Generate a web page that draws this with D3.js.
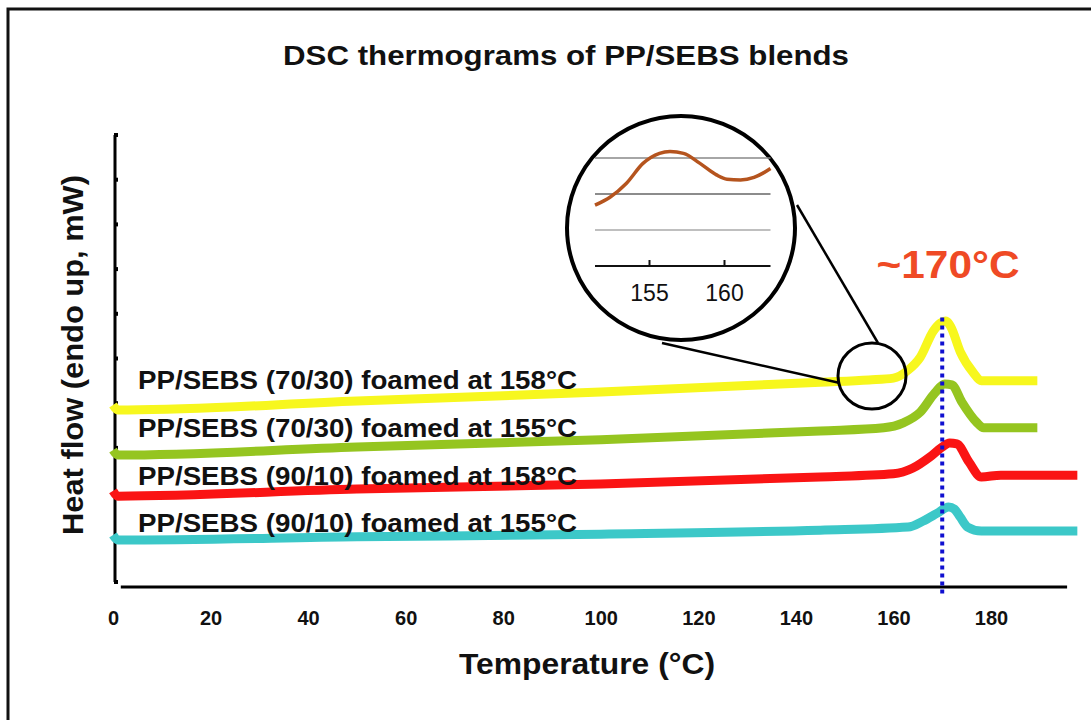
<!DOCTYPE html>
<html><head><meta charset="utf-8">
<script src="https://cdn.jsdelivr.net/npm/d3@7"></script>
<style>
html,body{margin:0;padding:0;background:#fff;}
svg{display:block;}
text{font-family:"Liberation Sans",Arial,sans-serif;}
</style></head>
<body>
<svg id="chart" width="1091" height="720"></svg>
<script>
// ---------------- data ----------------
const titleText = "DSC thermograms of PP/SEBS blends";
const xLabel = "Temperature (°C)";
const yLabel = "Heat flow (endo up, mW)";
const xTicks = [0, 20, 40, 60, 80, 100, 120, 140, 160, 180];
const yTicks = [0, 1, 2, 3, 4, 5, 6, 7, 8, 9, 10];
const seriesNames = [
  "PP/SEBS (70/30) foamed at 158°C",
  "PP/SEBS (70/30) foamed at 155°C",
  "PP/SEBS (90/10) foamed at 158°C",
  "PP/SEBS (90/10) foamed at 155°C"
];
const seriesColors = ["#f7f71e", "#95c520", "#fa1414", "#3cc8c8"];

const yellowT = [0, 1, 3, 50, 100, 145, 155, 160, 163, 165.5, 168.2, 169.6, 170.7, 171.8, 173.7, 176.4, 178, 189.5];
const yellowV = [3.96, 3.85, 3.85, 4.05, 4.25, 4.47, 4.52, 4.56, 4.74, 5.03, 5.62, 5.79, 5.84, 5.70, 5.15, 4.68, 4.50, 4.50];
const greenT = [0, 1, 50, 100, 145, 158, 162, 165.5, 168.5, 170.5, 172, 174, 177, 178.5, 189.5];
const greenV = [2.95, 2.84, 3.02, 3.18, 3.38, 3.45, 3.56, 3.80, 4.23, 4.43, 4.41, 4.03, 3.58, 3.45, 3.45];
const redT = [0, 1, 50, 100, 145, 160, 164, 167.5, 170, 171.5, 173, 175.5, 178, 182, 197.7];
const redV = [2.04, 1.92, 2.08, 2.19, 2.35, 2.42, 2.55, 2.80, 3.02, 3.11, 3.09, 2.68, 2.35, 2.39, 2.39];
const cyanT = [0, 1, 50, 100, 145, 163, 166, 169, 171.3, 172.5, 173.7, 175.2, 178, 197.7];
const cyanV = [1.05, 0.94, 1.01, 1.07, 1.16, 1.23, 1.36, 1.54, 1.68, 1.63, 1.45, 1.23, 1.14, 1.14];

const peakTemp = 170;
const peakLabel = "~170°C";

// inset (zoom of the yellow curve)
const insetTicks = [155, 160];
const insetGrid = [1, 2, 3];
const insetT = [151.4, 152.4, 153.5, 154.6, 155.7, 156.4, 157.3, 158.4, 159.5, 160.2, 161.1, 162.0, 162.6, 163.1];
const insetV = [1.69, 1.91, 2.30, 2.85, 3.13, 3.18, 3.13, 2.85, 2.53, 2.41, 2.39, 2.46, 2.58, 2.71];

// ---------------- drawing ----------------
const svg = d3.select("#chart");
const F = '"Liberation Sans",Arial,sans-serif';

// frame
svg.append("rect").attr("x", 8).attr("y", 9).attr("width", 1200).attr("height", 800)
  .attr("fill", "none").attr("stroke", "#111").attr("stroke-width", 3);

const x = d3.scaleLinear().domain([0, 180]).range([113, 991]);
const y = d3.scaleLinear().domain([0, 10]).range([582, 135]);

// title
svg.append("text").attr("x", 566).attr("y", 65).attr("text-anchor", "middle")
  .attr("font-size", 27).attr("font-weight", "bold").attr("fill", "#111")
  .attr("textLength", 566).attr("lengthAdjust", "spacingAndGlyphs").text(titleText);

// y axis
svg.append("line").attr("x1", 115).attr("x2", 115).attr("y1", y(10)).attr("y2", y(0))
  .attr("stroke", "#000").attr("stroke-width", 3);
svg.selectAll(".ytick").data(yTicks).enter().append("rect")
  .attr("x", 114).attr("y", d => y(d) - 2).attr("width", 4).attr("height", 4).attr("fill", "#000");

// x axis
const xAxis = d3.axisBottom(x).tickValues(xTicks).tickSize(0).tickPadding(0);
const gx = svg.append("g").attr("transform", "translate(0,587)").call(xAxis);
gx.select(".domain").remove();
gx.selectAll("text").attr("font-family", F).attr("font-size", 20).attr("font-weight", "bold")
  .attr("fill", "#111").attr("dy", null).attr("y", 38);
svg.append("line").attr("x1", x(1.6)).attr("x2", x(195.6)).attr("y1", 587).attr("y2", 587)
  .attr("stroke", "#000").attr("stroke-width", 3);

// axis labels
svg.append("text").attr("x", 587).attr("y", 674).attr("text-anchor", "middle")
  .attr("font-size", 29).attr("font-weight", "bold").attr("fill", "#111")
  .attr("textLength", 256).attr("lengthAdjust", "spacingAndGlyphs").text(xLabel);
svg.append("text").attr("transform", "translate(83,355) rotate(-90)").attr("text-anchor", "middle")
  .attr("font-size", 29).attr("font-weight", "bold").attr("fill", "#111")
  .attr("textLength", 360).attr("lengthAdjust", "spacingAndGlyphs").text(yLabel);

// curves
const seriesT = [yellowT, greenT, redT, cyanT];
const seriesV = [yellowV, greenV, redV, cyanV];
const line = d3.line().x(d => x(d[0])).y(d => y(d[1])).curve(d3.curveMonotoneX);
seriesT.forEach((ts, i) => {
  const pts = ts.map((t, j) => [t, seriesV[i][j]]);
  svg.append("path").attr("d", line(pts)).attr("fill", "none")
    .attr("stroke", seriesColors[i]).attr("stroke-width", 9)
    .attr("stroke-linejoin", "round").attr("stroke-linecap", "butt");
});

// series labels
const labelBaselines = [389, 437, 485, 532];
seriesNames.forEach((s, i) => {
  svg.append("text").attr("x", 138).attr("y", labelBaselines[i])
    .attr("font-size", 26).attr("font-weight", "bold").attr("fill", "#111")
    .attr("textLength", 439).attr("lengthAdjust", "spacingAndGlyphs").text(s);
});

// peak dotted line
svg.append("line").attr("x1", x(peakTemp)).attr("x2", x(peakTemp))
  .attr("y1", y(5.92)).attr("y2", y(-0.3))
  .attr("stroke", "#1010d0").attr("stroke-width", 4).attr("stroke-dasharray", "4,4");
svg.append("text").attr("x", 948).attr("y", 278).attr("text-anchor", "middle")
  .attr("font-size", 38).attr("font-weight", "bold").attr("fill", "#ef4a25")
  .attr("textLength", 143).attr("lengthAdjust", "spacingAndGlyphs")
  .text(peakLabel);

// small circle on yellow curve + connectors
svg.append("line").attr("x1", 797).attr("y1", 205).attr("x2", 878).attr("y2", 343)
  .attr("stroke", "#000").attr("stroke-width", 2.5);
svg.append("line").attr("x1", 662).attr("y1", 343).attr("x2", 840).attr("y2", 383)
  .attr("stroke", "#000").attr("stroke-width", 2.5);
svg.append("ellipse").attr("cx", 872).attr("cy", 376).attr("rx", 34).attr("ry", 33)
  .attr("fill", "none").attr("stroke", "#000").attr("stroke-width", 3);

// inset
const ix = d3.scaleLinear().domain([155, 160]).range([649, 724]);
const iy = d3.scaleLinear().domain([0, 3]).range([266, 158]);
svg.append("ellipse").attr("cx", 681).attr("cy", 228).attr("rx", 114).attr("ry", 112)
  .attr("fill", "#fff").attr("stroke", "#000").attr("stroke-width", 4);
const gridCols = ["#aaa", "#666", "#888"];
svg.selectAll(".ig").data(insetGrid).enter().append("line")
  .attr("x1", ix(151.4)).attr("x2", ix(163.1)).attr("y1", d => iy(d)).attr("y2", d => iy(d))
  .attr("stroke", (d, i) => gridCols[i]).attr("stroke-width", 1.5);
svg.append("line").attr("x1", ix(151.4)).attr("x2", ix(163.1)).attr("y1", iy(0)).attr("y2", iy(0))
  .attr("stroke", "#111").attr("stroke-width", 2);
const ixAxis = d3.axisTop(ix).tickValues(insetTicks).tickSize(6).tickFormat(d3.format("d"));
const gix = svg.append("g").attr("transform", `translate(0,${iy(0)})`).call(ixAxis);
gix.select(".domain").remove();
gix.selectAll("line").attr("stroke", "#111").attr("stroke-width", 2);
gix.selectAll("text").attr("font-family", F).attr("font-size", 23).attr("fill", "#111")
  .attr("dy", null).attr("y", 35);
const iline = d3.line().x(d => ix(d[0])).y(d => iy(d[1])).curve(d3.curveMonotoneX);
svg.append("path").attr("d", iline(insetT.map((t, j) => [t, insetV[j]])))
  .attr("fill", "none").attr("stroke", "#b5541e").attr("stroke-width", 3.5);
</script>
</body></html>
